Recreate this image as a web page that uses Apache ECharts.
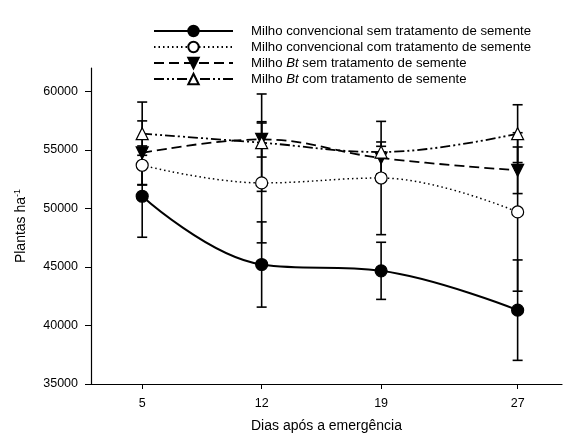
<!DOCTYPE html>
<html>
<head>
<meta charset="utf-8">
<style>html,body{margin:0;padding:0;background:#fff;}#c{width:563px;height:439px;}</style>
<script src="https://cdn.jsdelivr.net/npm/echarts@6/dist/echarts.min.js"></script>
</head>
<body>
<div id="c"></div>
<script>
const days = [5, 12, 19, 27];
const xTicks = [5, 12, 19, 27];
const yTicks = [35000, 40000, 45000, 50000, 55000, 60000];

const names = [
  'Milho convencional sem tratamento de semente',
  'Milho convencional com tratamento de semente',
  'Milho Bt sem tratamento de semente',
  'Milho Bt com tratamento de semente'
];

const convSem = [51040, 45210, 44670, 41310];
const convSemErr = [3500, 3640, 2440, 4290];
const convCom = [53690, 52180, 52600, 49700];
const convComErr = [1650, 5120, 4840, 6770];
const btSem = [54740, 55900, 54310, 53260];
const btSemErr = [2740, 1510, 1370, 1990];
const btCom = [56390, 55620, 54820, 56390];
const btComErr = [2700, 4160, 490, 2470];

const FONT = 'Liberation Sans, Arial, sans-serif';

function pts(vals) { return days.map((d, i) => [d, vals[i]]); }
function errPts(vals, errs) { return days.map((d, i) => [d, vals[i] - errs[i], vals[i] + errs[i]]); }

function errSeries(vals, errs, id) {
  return {
    type: 'custom',
    name: 'err' + id,
    z: 1,
    silent: true,
    data: errPts(vals, errs),
    renderItem: function (params, api) {
      const lo = api.coord([api.value(0), api.value(1)]);
      const hi = api.coord([api.value(0), api.value(2)]);
      const w = 5;
      const st = { stroke: '#000', lineWidth: 1.6 };
      return {
        type: 'group',
        children: [
          { type: 'line', shape: { x1: lo[0], y1: lo[1], x2: hi[0], y2: hi[1] }, style: st },
          { type: 'line', shape: { x1: lo[0] - w, y1: lo[1], x2: lo[0] + w, y2: lo[1] }, style: st },
          { type: 'line', shape: { x1: hi[0] - w, y1: hi[1], x2: hi[0] + w, y2: hi[1] }, style: st }
        ]
      };
    }
  };
}

function lineSeries(name, vals, opts) {
  return Object.assign({
    type: 'line',
    name: name,
    z: 3,
    data: pts(vals),
    smooth: 0.4,
    symbolSize: 12,
    itemStyle: { color: '#000', borderColor: '#000', borderWidth: 1.2, opacity: 1 },
    lineStyle: { color: '#000', width: 1.6 }
  }, opts);
}

const chart = echarts.init(document.getElementById('c'));
chart.setOption({
  animation: false,
  backgroundColor: '#fff',
  grid: { left: 91, right: 1, top: 68, bottom: 55, outerBoundsMode: 'none', containLabel: false },
  legend: {
    orient: 'vertical',
    left: 148,
    top: 19,
    itemWidth: 79,
    itemHeight: 13,
    itemGap: 2,
    data: names,
    formatter: function (n) { return n.replace('Bt', '{i|Bt}'); },
    textStyle: {
      fontFamily: FONT, fontSize: 13.2, lineHeight: 14, color: '#000', padding: [0, 0, 0, 13],
      rich: { i: { fontFamily: FONT, fontSize: 13.2, lineHeight: 14, color: '#000', fontStyle: 'italic' } }
    }
  },
  xAxis: {
    type: 'value',
    min: 2,
    max: 29.6,
    name: 'Dias após a emergência',
    nameLocation: 'middle',
    nameGap: 35,
    nameTextStyle: { fontFamily: FONT, fontSize: 14, color: '#000' },
    splitLine: { show: false },
    axisLine: { lineStyle: { color: '#000', width: 1.2 } },
    axisTick: { customValues: xTicks, length: 5, lineStyle: { color: '#000' } },
    axisLabel: { customValues: xTicks, margin: 13, fontFamily: FONT, fontSize: 12.5, color: '#000' }
  },
  yAxis: {
    type: 'value',
    min: 35000,
    max: 62000,
    name: '{n|Plantas ha}{s|-1}',
    nameLocation: 'middle',
    nameGap: 61,
    nameRotate: 90,
    nameTextStyle: {
      rich: {
        n: { fontFamily: FONT, fontSize: 14, color: '#000' },
        s: { fontFamily: FONT, fontSize: 9, color: '#000', verticalAlign: 'bottom', padding: [0, 0, 8, 0] }
      }
    },
    splitLine: { show: false },
    axisLine: { show: true, lineStyle: { color: '#000', width: 1.2 } },
    axisTick: { show: true, customValues: yTicks, length: 6, lineStyle: { color: '#000' } },
    axisLabel: {
      customValues: yTicks, margin: 13, fontFamily: FONT, fontSize: 12.5, color: '#000',
      formatter: function (v) { return String(v); }
    }
  },
  series: [
    errSeries(convSem, convSemErr, 1),
    errSeries(convCom, convComErr, 2),
    errSeries(btSem, btSemErr, 3),
    errSeries(btCom, btComErr, 4),
    lineSeries(names[0], convSem, { symbol: 'circle', lineStyle: { color: '#000', width: 2, type: 'solid' } }),
    lineSeries(names[1], convCom, { symbol: 'circle', itemStyle: { color: '#fff', borderColor: '#000', borderWidth: 1.2 }, lineStyle: { color: '#000', width: 1.5, type: [1.5, 3] } }),
    lineSeries(names[2], btSem, { symbol: 'triangle', symbolRotate: 180, lineStyle: { color: '#000', width: 1.8, type: [10, 5] } }),
    lineSeries(names[3], btCom, { symbol: 'triangle', itemStyle: { color: '#fff', borderColor: '#000', borderWidth: 1.2 }, lineStyle: { color: '#000', width: 1.8, type: [10, 3, 2, 3, 2, 3] } })
  ]
});
</script>
</body>
</html>
